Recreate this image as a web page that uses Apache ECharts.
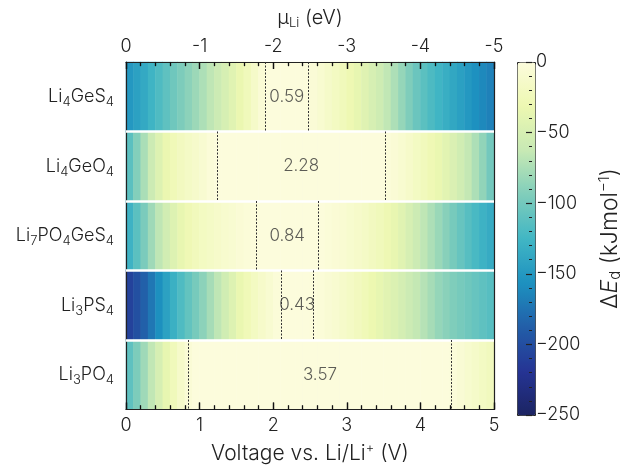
<!DOCTYPE html>
<html>
<head>
<meta charset="utf-8">
<script src="https://cdn.jsdelivr.net/npm/echarts@6/dist/echarts.min.js"></script>
<style>
  html, body { margin: 0; background: #fff; }
  #chart { width: 624px; height: 469px; }
</style>
</head>
<body>
<div id="chart"></div>
<script>
// materials, top row first
var materials = ['Li4GeS4', 'Li4GeO4', 'Li7PO4GeS4', 'Li3PS4', 'Li3PO4'];

// stability window (V vs Li/Li+) and its width
var windowLow = [1.89, 1.24, 1.77, 2.11, 0.85];
var windowHigh = [2.48, 3.52, 2.61, 2.54, 4.42];
var windowWidth = ['0.59', '2.28', '0.84', '0.43', '3.57'];

// decomposition energy (kJ/mol) read per 0.1 V cell, from 0.05 V to 4.95 V
var eLi4GeS4 = [-150, -143, -136, -127, -118, -110, -102, -95, -88, -81,
  -74, -66, -58, -50, -42, -33, -24, -14, -5, 0,
  0, 0, 0, 0, 0, -4, -9, -14, -19, -24,
  -30, -36, -43, -50, -57, -65, -74, -84, -94, -104,
  -112, -119, -126, -132, -138, -144, -150, -156, -161, -166];
var eLi4GeO4 = [-112, -92, -75, -58, -44, -33, -26, -20, -16, -12,
  -8, -3, 0, 0, 0, 0, 0, 0, 0, 0,
  0, 0, 0, 0, 0, 0, 0, 0, 0, 0,
  0, 0, 0, 0, 0, -2, -5, -9, -13, -18,
  -23, -28, -34, -40, -47, -55, -64, -74, -86, -100];
var eLi7PO4GeS4 = [-128, -112, -96, -80, -66, -54, -44, -35, -28, -23,
  -19, -16, -13, -10, -8, -5, -3, -1, 0, 0,
  0, 0, 0, 0, 0, 0, -1, -3, -5, -7,
  -10, -13, -16, -20, -24, -29, -35, -42, -50, -58,
  -66, -74, -82, -90, -98, -106, -114, -121, -128, -134];
var eLi3PS4 = [-208, -198, -186, -172, -157, -143, -130, -118, -108, -98,
  -88, -77, -66, -55, -44, -34, -26, -19, -13, -8,
  -3, 0, 0, 0, 0, -1, -3, -6, -9, -13,
  -17, -21, -26, -31, -36, -41, -46, -52, -58, -64,
  -70, -77, -84, -89, -94, -98, -102, -106, -110, -114];
var eLi3PO4 = [-110, -95, -80, -65, -50, -36, -24, -13, -4, 0,
  0, 0, 0, 0, 0, 0, 0, 0, 0, 0,
  0, 0, 0, 0, 0, 0, 0, 0, 0, 0,
  0, 0, 0, 0, 0, 0, 0, 0, 0, 0,
  0, 0, 0, 0, -2, -6, -10, -14, -18, -22];
var energyRows = [eLi4GeS4, eLi4GeO4, eLi7PO4GeS4, eLi3PS4, eLi3PO4];

var voltTicks = [0, 1, 2, 3, 4, 5];
var colorTicks = [-250, -200, -150, -100, -50, 0];

// heatmap cells
var cells = [];
for (var c = 0; c < eLi4GeS4.length; c++) cells.push((c * 0.1 + 0.05).toFixed(2));
var heat = [];
energyRows.forEach(function (row, r) {
  row.forEach(function (v, c) { heat.push([c, r, v]); });
});

// row separators + window edges as mark lines, window widths as labels
var winStyle = { color: '#333', width: 1, type: [2, 1.5] };
var sepStyle = { color: '#fff', width: 2.5, type: 'solid' };
var tickStyle = { color: '#111', width: 1.3, type: 'solid' };
var marks = [];
for (var r = 1; r < materials.length; r++) {
  marks.push([{ coord: [0, r], lineStyle: sepStyle }, { coord: [5, r] }]);
}
var winLabels = [];
materials.forEach(function (m, r) {
  marks.push([{ coord: [windowLow[r], r], lineStyle: winStyle }, { coord: [windowLow[r], r + 1] }]);
  marks.push([{ coord: [windowHigh[r], r], lineStyle: winStyle }, { coord: [windowHigh[r], r + 1] }]);
  winLabels.push([(windowLow[r] + windowHigh[r]) / 2, r + 0.5, windowWidth[r]]);
});
// inward ticks on the top and bottom frame (major every 1 V, minor every 0.2 V)
var nRows = materials.length;
voltTicks.forEach(function (t, i) {
  var steps = [0];
  if (i < voltTicks.length - 1) steps = [0, 0.2, 0.4, 0.6, 0.8];
  steps.forEach(function (s) {
    var x = t + s;
    var len = s === 0 ? 0.1 : 0.06;
    marks.push([{ coord: [x, nRows], lineStyle: tickStyle }, { coord: [x, nRows - len] }]);
    marks.push([{ coord: [x, 0], lineStyle: tickStyle }, { coord: [x, len] }]);
  });
});

var ink = '#222';
var font = 'Inter';
var fw = 300;
function txt(size, lh, extra) {
  var s = { fontSize: size, lineHeight: lh, color: ink, fontFamily: font, fontWeight: fw };
  for (var k in extra) s[k] = extra[k];
  return s;
}

var chart = echarts.init(document.getElementById('chart'));
var option = {
  animation: false,
  textStyle: { fontFamily: font, fontWeight: fw, color: ink },
  grid: [
    { left: 126, top: 62, width: 368, height: 353 },
    { left: 517, top: 62, width: 18, height: 353 }
  ],
  xAxis: [
    { type: 'category', gridIndex: 0, data: cells, show: false },
    {
      type: 'value', gridIndex: 0, position: 'bottom', min: 0, max: 5, interval: 1,
      axisLine: { show: true, onZero: false, lineStyle: { color: ink, width: 1.2 } },
      axisTick: { show: true, inside: true, length: 7, lineStyle: { color: ink, width: 1.2 } },
      minorTick: { show: true, splitNumber: 5, length: 4, lineStyle: { color: ink, width: 1 } },
      splitLine: { show: false },
      axisLabel: { fontSize: 18, color: ink, margin: 7, fontFamily: font, fontWeight: fw },
      name: '{n|Voltage vs. Li/Li}{p|+}{n| (V)}',
      nameLocation: 'middle', nameGap: 32,
      nameTextStyle: {
        rich: { n: txt(21, 24), p: txt(13, 13, { verticalAlign: 'top' }) }
      }
    },
    {
      type: 'value', gridIndex: 0, position: 'top', min: -5, max: 0, interval: 1, inverse: true,
      axisLine: { show: true, onZero: false, lineStyle: { color: ink, width: 1.2 } },
      axisTick: { show: true, inside: true, length: 7, lineStyle: { color: ink, width: 1.2 } },
      minorTick: { show: true, splitNumber: 5, length: 4, lineStyle: { color: ink, width: 1 } },
      splitLine: { show: false },
      axisLabel: { fontSize: 18, color: ink, margin: 6, fontFamily: font, fontWeight: fw },
      name: '{n|μ}{s|Li}{n| (eV)}',
      nameLocation: 'middle', nameGap: 32,
      nameTextStyle: {
        rich: { n: txt(20, 24), s: txt(13, 13, { verticalAlign: 'bottom' }) }
      }
    },
    { type: 'value', gridIndex: 1, min: 0, max: 1, show: false }
  ],
  yAxis: [
    {
      type: 'category', gridIndex: 0, data: materials, inverse: true,
      axisLine: { show: true, onZero: false, lineStyle: { color: ink, width: 1.2 } },
      axisTick: { show: false },
      axisLabel: {
        margin: 12, fontSize: 18, color: ink,
        formatter: function (name) {
          return name.replace(/([A-Za-z]+)/g, '{n|$1}').replace(/(\d+)/g, '{s|$1}');
        },
        rich: { n: txt(18, 24), s: txt(13, 13, { verticalAlign: 'bottom' }) }
      }
    },
    {
      type: 'value', gridIndex: 0, min: 0, max: nRows, inverse: true, position: 'right',
      axisLine: { show: true, onZero: false, lineStyle: { color: ink, width: 1.2 } },
      axisTick: { show: false }, axisLabel: { show: false }, splitLine: { show: false }
    },
    {
      type: 'value', gridIndex: 1, min: colorTicks[0], max: colorTicks[colorTicks.length - 1],
      interval: 50, position: 'right',
      axisLine: { show: false, onZero: false },
      axisTick: { show: true, inside: true, length: 6, lineStyle: { color: ink, width: 1.2 } },
      minorTick: { show: true, splitNumber: 5, length: 3, lineStyle: { color: ink, width: 1 } },
      splitLine: { show: false },
      axisLabel: {
        fontSize: 18, color: ink, margin: 4, fontFamily: font, fontWeight: fw,
        formatter: function (v) { return v < 0 ? '\u2212' + (-v) : String(v); }
      },
      name: '{n|Δ}{i|E}{s|d}{n| (kJmol}{p|−1}{n|)}',
      nameLocation: 'middle', nameRotate: 90, nameGap: 65,
      nameTextStyle: {
        rich: {
          n: txt(23, 26), i: txt(23, 26, { fontStyle: 'italic' }),
          s: txt(15, 15, { verticalAlign: 'bottom' }), p: txt(15, 15, { verticalAlign: 'top' })
        }
      }
    }
  ],
  visualMap: {
    type: 'continuous', seriesIndex: 0, min: -250, max: 0,
    left: 517, top: 62, itemWidth: 18, itemHeight: 353, padding: 0,
    calculable: false, hoverLink: false, z: -1,
    borderColor: ink, borderWidth: 1,
    inRange: {
      color: ['#1c2462', '#253494', '#225ea8', '#1d91c0', '#41b6c4', '#7fcdbb', '#c7e9b4', '#edf8b1', '#fcfcdc']
    }
  },
  series: [
    {
      type: 'heatmap', xAxisIndex: 0, yAxisIndex: 0, data: heat, z: -1,
      emphasis: { disabled: true }, silent: true
    },
    {
      type: 'scatter', xAxisIndex: 1, yAxisIndex: 1, data: winLabels, symbolSize: 0,
      silent: true, z: 5,
      label: {
        show: true, position: 'inside', fontSize: 17, color: '#333', fontFamily: font, fontWeight: fw,
        formatter: function (p) { return p.value[2]; }
      },
      markLine: {
        silent: true, symbol: ['none', 'none'], label: { show: false }, precision: 3,
        emphasis: { disabled: true }, data: marks
      }
    }
  ]
};
chart.setOption(option);
</script>
</body>
</html>
